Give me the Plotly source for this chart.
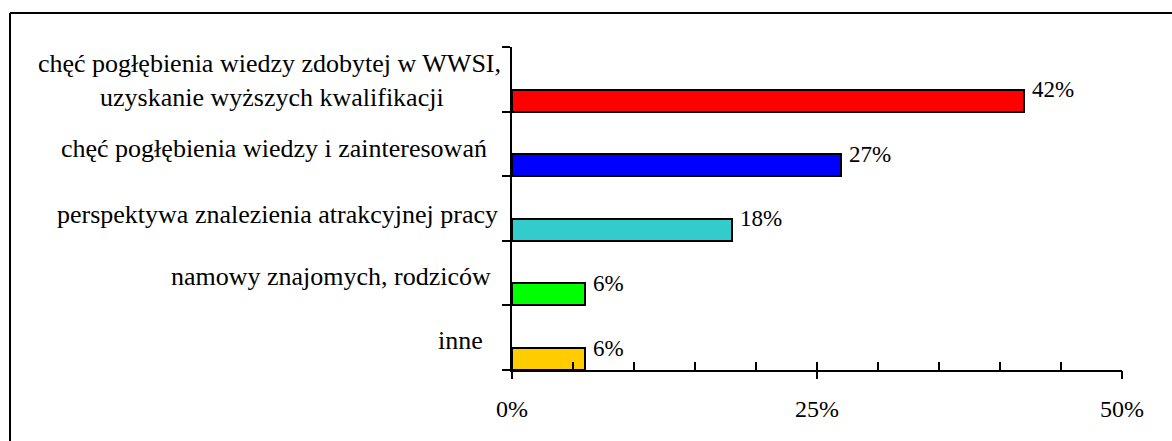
import plotly.graph_objects as go

# Data (bottom to top, as drawn on the category axis)
categories = [
    "inne",
    "namowy znajomych, rodziców",
    "perspektywa znalezienia atrakcyjnej pracy",
    "chęć pogłębienia wiedzy i zainteresowań",
    "chęć pogłębienia wiedzy zdobytej w WWSI, uzyskanie wyższych kwalifikacji",
]
values = [6, 6, 18, 27, 42]
value_labels = ["6%", "6%", "18%", "27%", "42%"]
bar_colors = ["#FFCC00", "#00FF00", "#33CCCC", "#0000FF", "#FF0000"]
x_tick_vals = [0, 25, 50]
x_tick_text = ["0%", "25%", "50%"]

FONT = "Liberation Serif, Times New Roman, serif"
W, H = 1172, 441
ML, MR, MT, MB = 512, 50, 47, 71
PW, PH = W - ML - MR, H - MT - MB

BAR_W = 0.34

fig = go.Figure()
fig.add_trace(go.Bar(
    orientation="h",
    x=values,
    y=categories,
    width=BAR_W,
    offset=-0.5,
    marker=dict(color=bar_colors, line=dict(color="black", width=2)),
    hoverinfo="skip",
    showlegend=False,
))
# invisible helper trace for the overlaid labelled x axis
fig.add_trace(go.Scatter(x=[0, 50], y=[categories[0], categories[0]], xaxis="x2",
                         mode="markers", marker=dict(opacity=0), showlegend=False,
                         hoverinfo="skip"))

annotations = []
# value labels at the top-right corner of each bar
for i, (v, t) in enumerate(zip(values, value_labels)):
    annotations.append(dict(
        x=v, y=i - 0.5 + BAR_W, xref="x", yref="y", text=t, showarrow=False,
        xanchor="left", yanchor="middle", xshift=6,
        font=dict(family=FONT, size=23, color="black"),
    ))

# category labels (right-aligned, Excel-like placement)
label_lines = [
    (0, "inne", -27, -3),
    (1, "namowy znajomych, rodziców", -19, -3),
    (2, "perspektywa znalezienia atrakcyjnej pracy", -12, -6),
    (3, "chęć pogłębienia wiedzy i zainteresowań", -23, -5),
    (4, "chęć pogłębienia wiedzy zdobytej w WWSI,", -9, 16),
    (4, "uzyskanie wyższych kwalifikacji", -66, -18),
]
for idx, txt, xs, ys in label_lines:
    annotations.append(dict(
        x=0, y=idx, xref="paper", yref="y", text=txt, showarrow=False,
        xanchor="right", yanchor="middle", xshift=xs, yshift=ys,
        font=dict(family=FONT, size=26, color="black"),
    ))

# outer frame (only top and left edges are visible in the crop)
def px_x(p):
    return (p - ML) / PW

def px_y(p):
    return (H - MB - p) / PH

frame = dict(color="black", width=2)
shapes = [
    dict(type="line", xref="paper", yref="paper",
         x0=px_x(10), x1=px_x(1180), y0=px_y(13), y1=px_y(13), line=frame),
    dict(type="line", xref="paper", yref="paper",
         x0=px_x(10), x1=px_x(10), y0=px_y(13), y1=px_y(450), line=frame),
]

fig.update_layout(
    width=W, height=H,
    margin=dict(l=ML, r=MR, t=MT, b=MB, pad=0),
    paper_bgcolor="white", plot_bgcolor="white",
    font=dict(family=FONT, size=24, color="black"),
    bargap=0,
    xaxis=dict(
        range=[0, 50], showgrid=False, zeroline=False,
        showline=True, linecolor="black", linewidth=2,
        tickmode="linear", tick0=0, dtick=5,
        ticks="inside", ticklen=8, tickwidth=2, tickcolor="black",
        showticklabels=False, fixedrange=True,
    ),
    xaxis2=dict(
        overlaying="x", side="bottom", anchor="y",
        range=[0, 50], showgrid=False, zeroline=False, showline=False,
        tickmode="array", tickvals=x_tick_vals, ticktext=x_tick_text,
        ticks="outside", ticklen=8, tickwidth=2, tickcolor="black",
        tickfont=dict(family=FONT, size=24, color="black"),
        ticklabelstandoff=9,
    ),
    yaxis=dict(
        type="category", categoryorder="array", categoryarray=categories,
        range=[-0.5, 4.5], showgrid=False, zeroline=False,
        showline=True, linecolor="black", linewidth=2,
        ticks="outside", tickson="boundaries", ticklen=8, tickwidth=2,
        tickcolor="black", showticklabels=False,
    ),
    annotations=annotations,
    shapes=shapes,
)

fig.write_html(
    "out.html", config={"displayModeBar": False},
    post_script=("document.body.style.margin='0';"
                 "document.body.style.overflow='hidden';"
                 "document.documentElement.style.overflow='hidden';"),
)
